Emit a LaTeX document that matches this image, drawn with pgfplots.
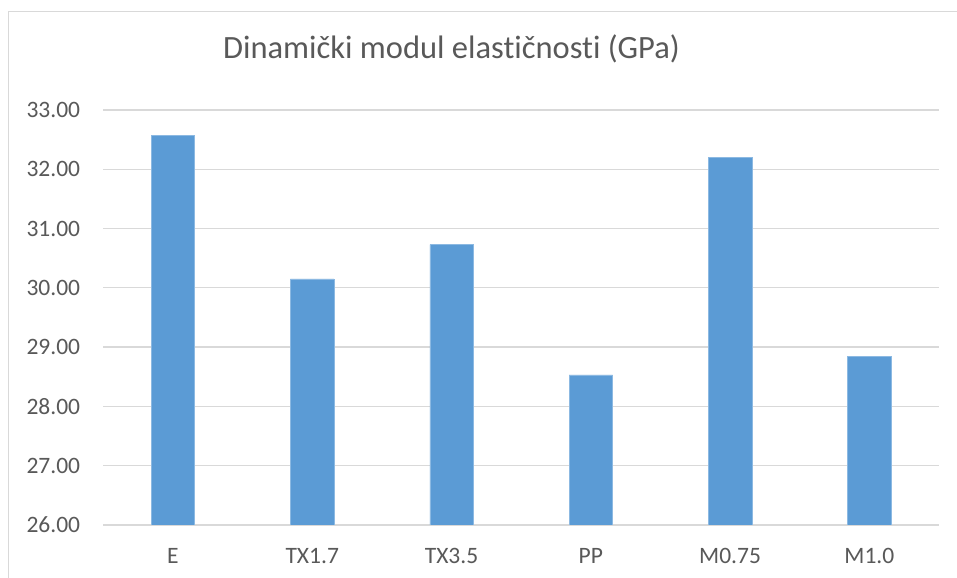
\documentclass[border=0pt]{standalone}
\usepackage{pgfplots}
\pgfplotsset{compat=1.18}
\usepackage{fontspec}
\setmainfont[Ligatures={NoCommon}]{Carlito}
\definecolor{barblue}{HTML}{5B9BD5}
\definecolor{gridgray}{HTML}{D9D9D9}
\definecolor{txtgray}{HTML}{595959}
\begin{document}
\begin{tikzpicture}[x=1bp,y=1bp]
\useasboundingbox (0,0) rectangle (957,578);
\fill[white] (0,0) rectangle (957,578);
\draw[gridgray, line width=1.6bp] (8.5,0) -- (8.5,566.5) -- (957,566.5);
\node[anchor=base, text=txtgray, font=\fontsize{32.5bp}{38bp}\selectfont] at (451.5bp,519bp) {Dinamički modul elastičnosti (GPa)};
\begin{axis}[
  at={(103.3bp,53bp)}, anchor=south west,
  scale only axis, width=835.7bp, height=415bp,
  ybar, bar shift=0pt, bar width=43.5bp,
  xmin=-0.5, xmax=5.5, ymin=26, ymax=33,
  xtick={0,1,2,3,4,5},
  xticklabels={E,TX1.7,TX3.5,PP,M0.75,M1.0},
  ytick={26,27,...,33},
  ymajorgrids, grid style={gridgray, line width=1.3bp},
  axis line style={draw=none},
  major tick length=0pt,
  /pgf/number format/assume math mode=true,
  yticklabel={\pgfmathprintnumber[fixed,zerofill,precision=2]{\tick}},
  tick label style={text=txtgray, font=\fontsize{23.5bp}{27bp}\selectfont},
  yticklabel style={anchor=east, inner sep=0pt, xshift=-23bp},
  xticklabel style={anchor=base, inner sep=0pt, yshift=-39bp},
]
\addplot[fill=barblue, draw=barblue!70!white, line width=0.5bp] coordinates {
  (0,32.57) (1,30.15) (2,30.73) (3,28.53) (4,32.20) (5,28.84)
};
\end{axis}
\end{tikzpicture}
\end{document}
